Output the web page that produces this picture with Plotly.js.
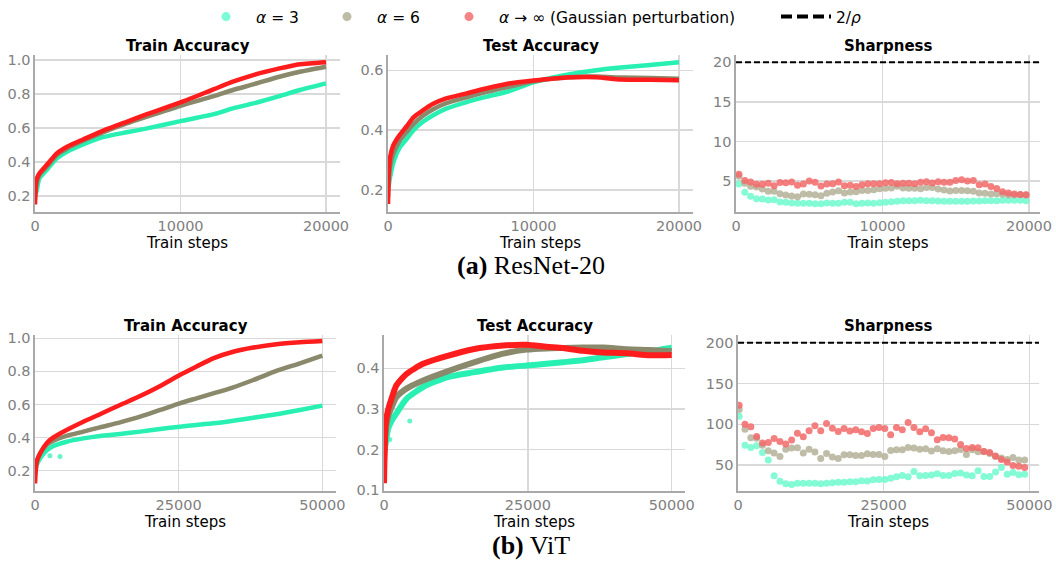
<!DOCTYPE html>
<html>
<head>
<meta charset="utf-8">
<script src="https://cdn.plot.ly/plotly-3.0.1.min.js"></script>
<style>html,body{margin:0;padding:0;background:#fff}#chart{width:1056px;height:562px}</style>
</head>
<body>
<div id="chart"></div>
<script>
// ---------------- DATA ----------------
// ResNet-20 train accuracy
const resTrainSteps = [0, 100, 300, 800, 1500, 2200, 3300, 4500, 6300, 7700, 10000, 12300, 13600, 15000, 16800, 18200, 20000];
const resTrainA3   = [0.21, 0.225, 0.304, 0.353, 0.422, 0.461, 0.504, 0.543, 0.575, 0.598, 0.641, 0.682, 0.716, 0.745, 0.788, 0.824, 0.863];
const resTrainA6   = [0.18, 0.27, 0.325, 0.372, 0.441, 0.48, 0.525, 0.569, 0.627, 0.667, 0.731, 0.788, 0.824, 0.857, 0.902, 0.931, 0.961];
const resTrainInf  = [0.15, 0.294, 0.333, 0.382, 0.451, 0.49, 0.533, 0.578, 0.637, 0.682, 0.751, 0.829, 0.873, 0.912, 0.951, 0.976, 0.988];

// ResNet-20 test accuracy
const resTestSteps = [0, 50, 150, 350, 800, 1300, 1750, 2400, 3100, 4000, 5400, 6800, 8300, 10000, 12300, 14300, 16000, 18000, 20000];
const resTestA3    = [0.205, 0.215, 0.244, 0.289, 0.342, 0.372, 0.40, 0.428, 0.45, 0.472, 0.494, 0.512, 0.53, 0.56, 0.585, 0.60, 0.609, 0.618, 0.627];
const resTestA6    = [0.175, 0.23, 0.28, 0.32, 0.365, 0.395, 0.42, 0.448, 0.47, 0.49, 0.51, 0.528, 0.545, 0.563, 0.577, 0.579, 0.576, 0.574, 0.572];
const resTestInf   = [0.154, 0.25, 0.311, 0.348, 0.384, 0.414, 0.443, 0.466, 0.488, 0.506, 0.523, 0.54, 0.556, 0.566, 0.576, 0.577, 0.569, 0.568, 0.567];

// ResNet-20 sharpness
const resSharpSteps = [200,600,1000,1400,1800,2200,2600,3000,3400,3800,4200,4600,5000,5400,5800,6200,6600,7000,7400,7800,8200,8600,9000,9400,9800,10200,10600,11000,11400,11800,12200,12600,13000,13400,13800,14200,14600,15000,15400,15800,16200,16600,17000,17400,17800,18200,18600,19000,19400,19800];
const resSharpA3  = [4.62,3.57,3.07,2.77,2.73,2.61,2.65,2.35,2.31,2.23,2.18,2.18,2.18,2.14,2.14,2.23,2.18,2.18,2.31,2.31,2.14,2.18,2.23,2.18,2.27,2.31,2.39,2.44,2.52,2.52,2.52,2.56,2.52,2.52,2.48,2.44,2.44,2.44,2.44,2.44,2.48,2.48,2.52,2.52,2.52,2.56,2.56,2.56,2.56,2.52];
const resSharpA6  = [5.6,4.71,4.33,4.24,3.99,3.70,3.70,3.40,3.24,3.11,3.03,3.36,3.32,3.28,3.15,3.45,3.61,3.78,3.49,3.61,3.66,3.82,3.82,3.91,4.03,4.08,4.12,4.33,4.12,4.08,4.08,4.03,4.20,4.20,3.99,3.87,3.74,3.82,3.82,3.78,3.70,3.49,3.45,3.36,3.40,3.32,3.24,3.24,3.28,3.24];
const resSharpInf = [5.85,5.08,4.88,4.6,4.6,4.72,4.42,4.82,4.8,4.88,4.47,4.62,5.02,4.86,4.36,4.62,4.65,4.88,4.42,4.47,4.32,4.52,4.66,4.66,4.66,4.8,4.82,4.66,4.72,4.72,4.66,4.84,4.9,4.76,4.92,4.86,4.86,5.08,5.16,5.02,5.08,4.52,4.62,4.32,4.06,3.66,3.5,3.36,3.3,3.26];
const resTwoOverRho = 20;

// ViT train accuracy
const vitTrainSteps = [0, 300, 900, 2000, 3200, 5500, 8400, 11300, 14800, 18300, 21800, 25200, 28100, 31000, 34500, 38000, 42000, 46100, 50000];
const vitTrainA3  = [0.184, 0.234, 0.275, 0.321, 0.349, 0.375, 0.395, 0.41, 0.422, 0.436, 0.452, 0.466, 0.476, 0.486, 0.502, 0.52, 0.541, 0.567, 0.593];
const vitTrainA6  = [0.19, 0.254, 0.305, 0.355, 0.381, 0.41, 0.436, 0.462, 0.492, 0.526, 0.567, 0.607, 0.637, 0.667, 0.704, 0.748, 0.803, 0.849, 0.895];
const vitTrainInf = [0.123, 0.254, 0.305, 0.365, 0.401, 0.446, 0.496, 0.541, 0.597, 0.651, 0.712, 0.778, 0.829, 0.879, 0.919, 0.944, 0.964, 0.976, 0.984];
const vitTrainA3OutSteps = [2600, 4350];
const vitTrainA3Out      = [0.29, 0.285];

// ViT test accuracy
const vitTestSteps = [0, 300, 700, 1300, 2150, 3900, 6800, 10900, 15500, 20700, 24800, 28200, 31100, 34600, 38100, 42200, 46200, 50000];
const vitTestA3  = [0.19, 0.215, 0.25, 0.27, 0.289, 0.325, 0.354, 0.378, 0.39, 0.402, 0.407, 0.411, 0.415, 0.42, 0.427, 0.435, 0.442, 0.451];
const vitTestA6  = [0.174, 0.248, 0.28, 0.303, 0.329, 0.35, 0.37, 0.392, 0.414, 0.436, 0.446, 0.449, 0.45, 0.451, 0.451, 0.447, 0.445, 0.442];
const vitTestInf = [0.117, 0.264, 0.297, 0.325, 0.358, 0.386, 0.411, 0.430, 0.447, 0.456, 0.458, 0.453, 0.45, 0.443, 0.439, 0.437, 0.432, 0.433];
const vitTestA3OutSteps = [1000, 4470];
const vitTestA3Out      = [0.225, 0.27];

// ViT sharpness
const vitSharpSteps = [200,1200,2200,3200,4200,5200,6200,7200,8200,9200,10200,11200,12200,13200,14200,15200,16200,17200,18200,19200,20200,21200,22200,23200,24200,25200,26200,27200,28200,29200,30200,31200,32200,33200,34200,35200,36200,37200,38200,39200,40200,41200,42200,43200,44200,45200,46200,47200,48200,49200];
const vitSharpA3  = [109.9,74.4,71.6,73.6,65.5,56.1,36.9,30.0,27.2,26.3,27.6,27.6,27.6,27.6,27.2,27.6,28.4,28.8,28.8,29.6,29.6,30.8,30.4,32.0,32.4,32.4,33.7,35.7,37.3,35.7,42.2,36.9,37.3,37.7,39.4,37.3,37.3,39.8,40.2,37.7,36.9,43.0,36.1,36.1,41.4,47.1,38.6,41.0,38.2,38.6];
const vitSharpA6  = [118.1,94.0,83.4,83.0,74.4,67.5,64.7,60.6,69.5,70.8,71.2,64.7,69.5,65.9,58.1,64.2,59.8,58.1,62.6,62.6,61.8,61.8,63.8,63.0,63.0,60.6,67.9,68.7,68.7,71.6,70.8,69.5,69.9,67.1,69.9,67.5,66.7,67.5,69.1,63.0,68.7,66.3,66.7,64.2,60.6,58.5,56.9,59.4,56.1,56.1];
const vitSharpInf = [123.4,100.1,96.9,85.0,76.9,77.7,82.6,78.9,75.7,80.6,89.1,84.6,92.0,98.1,92.0,100.9,95.2,91.2,94.8,91.6,93.2,90.7,88.7,94.8,96.0,94.8,87.1,96.0,93.2,102.2,96.0,90.7,94.4,89.5,81.0,83.8,83.4,81.8,75.3,70.4,71.6,71.2,66.7,65.5,61.0,56.9,53.6,49.6,48.4,47.1];
const vitTwoOverRho = 200;

// Labels
const seriesNames = ['<i>α</i> = 3', '<i>α</i> = 6', '<i>α</i> → ∞ (Gaussian perturbation)'];
const rhoName = '2/<i>ρ</i>';
const panelTitles = ['Train Accuracy', 'Test Accuracy', 'Sharpness', 'Train Accuracy', 'Test Accuracy', 'Sharpness'];
const xLabel = 'Train steps';
const captions = ['<b>(a)</b> ResNet-20', '<b>(b)</b> ViT'];
const xTicksRes = [0, 10000, 20000];
const xTicksVit = [0, 25000, 50000];
const yTicksAcc = [0.2, 0.4, 0.6, 0.8, 1.0];
const yTicksResTest = [0.2, 0.4, 0.6];
const yTicksVitTest = [0.1, 0.2, 0.3, 0.4];
const yTicksResSharp = [5, 10, 15, 20];
const yTicksVitSharp = [50, 100, 150, 200];

// ---------------- STYLE ----------------
const accColors = ['#27f0b2', '#8a896b', '#ff1c1c'];
const sharpColors = ['rgba(110,250,205,0.85)', 'rgba(180,178,152,0.85)', 'rgba(242,105,105,0.85)'];
const legendColors = ['#7cfcd6', '#bdbca6', '#f58484'];
const W = 1056, H = 562;
const FONT = 'DejaVu Sans, Verdana, sans-serif';

function px2x(p) { return p / W; }
function px2y(p) { return 1 - p / H; }

const panels = [
  {xd: [35, 340], yd: [55, 212], xr: [0, 20960], yr: [0.106, 1.03], xt: xTicksRes, yt: yTicksAcc, yf: '.1f'},
  {xd: [388, 693], yd: [55, 212], xr: [0, 20960], yr: [0.127, 0.651], xt: xTicksRes, yt: yTicksResTest, yf: '.1f'},
  {xd: [736, 1040], yd: [55, 212], xr: [0, 20750], yr: [1.09, 20.92], xt: xTicksRes, yt: yTicksResSharp, yf: 'd'},
  {xd: [35, 336], yd: [335, 491], xr: [0, 52380], yr: [0.077, 1.02], xt: xTicksVit, yt: yTicksAcc, yf: '.1f'},
  {xd: [384, 685], yd: [335, 491], xr: [0, 52310], yr: [0.098, 0.482], xt: xTicksVit, yt: yTicksVitTest, yf: '.1f'},
  {xd: [738, 1039], yd: [335, 491], xr: [0, 51660], yr: [18.2, 209.4], xt: xTicksVit, yt: yTicksVitSharp, yf: 'd'}
];

const layout = {
  width: W, height: H, autosize: false,
  margin: {l: 0, r: 0, t: 0, b: 0},
  paper_bgcolor: '#fff', plot_bgcolor: '#fff',
  font: {family: FONT, size: 14, color: '#000'},
  showlegend: true,
  legend: {
    orientation: 'h', x: px2x(196), xanchor: 'left', y: px2y(0), yanchor: 'top',
    font: {family: FONT, size: 15.5, color: '#000'}, itemwidth: 50, bgcolor: 'rgba(0,0,0,0)',
    tracegroupgap: 0
  },
  annotations: [], shapes: []
};

panels.forEach((p, i) => {
  const n = i + 1;
  const xa = 'xaxis' + (n === 1 ? '' : n), ya = 'yaxis' + (n === 1 ? '' : n);
  layout[xa] = {
    domain: [px2x(p.xd[0]), px2x(p.xd[1])], range: p.xr, anchor: 'y' + (n === 1 ? '' : n),
    tickvals: p.xt, tickformat: 'd', showgrid: true, gridcolor: '#d9d9d9', gridwidth: 1.5,
    zeroline: false, showline: true, linecolor: '#a9a9a9', linewidth: 1.6, ticks: '',
    tickfont: {family: FONT, size: 14.5, color: '#808080'}, automargin: false,
    title: {text: xLabel, font: {family: FONT, size: 15, color: '#000'}, standoff: 3}
  };
  layout[ya] = {
    domain: [px2y(p.yd[1]), px2y(p.yd[0])], range: p.yr, anchor: 'x' + (n === 1 ? '' : n),
    tickvals: p.yt, tickformat: p.yf, showgrid: true, gridcolor: '#d9d9d9', gridwidth: 1.5,
    zeroline: false, showline: true, linecolor: '#a9a9a9', linewidth: 1.6, ticks: '',
    tickfont: {family: FONT, size: 14.5, color: '#808080'}, automargin: false
  };
  layout.annotations.push({
    text: '<b>' + panelTitles[i] + '</b>', xref: 'paper', yref: 'paper',
    x: px2x((p.xd[0] + p.xd[1]) / 2), y: px2y(p.yd[0] - 9), xanchor: 'center', yanchor: 'middle',
    showarrow: false, font: {family: FONT, size: 15, color: '#000'}
  });
});

layout.annotations.push({
  text: captions[0], xref: 'paper', yref: 'paper', x: px2x(531), y: px2y(265),
  xanchor: 'center', yanchor: 'middle', showarrow: false,
  font: {family: 'Liberation Serif, Times New Roman, serif', size: 26, color: '#000'}
});
layout.annotations.push({
  text: captions[1], xref: 'paper', yref: 'paper', x: px2x(531), y: px2y(545),
  xanchor: 'center', yanchor: 'middle', showarrow: false,
  font: {family: 'Liberation Serif, Times New Roman, serif', size: 26, color: '#000'}
});

const traces = [];
function ax(n, c) { return c + (n === 1 ? '' : n); }
function accTraces(steps, series, n, width) {
  series.forEach((ys, k) => {
    traces.push({
      type: 'scatter', mode: 'lines', x: steps, y: ys, xaxis: ax(n, 'x'), yaxis: ax(n, 'y'),
      line: {color: accColors[k], width: width, shape: 'spline', smoothing: 0.6},
      showlegend: false, hoverinfo: 'skip'
    });
  });
}
function outlierTrace(steps, ys, n, k) {
  traces.push({
    type: 'scatter', mode: 'markers', x: steps, y: ys, xaxis: ax(n, 'x'), yaxis: ax(n, 'y'),
    marker: {color: accColors[k], size: 5, opacity: 0.7}, showlegend: false, hoverinfo: 'skip'
  });
}
function sharpTraces(steps, series, n) {
  series.forEach((ys, k) => {
    traces.push({
      type: 'scatter', mode: 'markers', x: steps, y: ys, xaxis: ax(n, 'x'), yaxis: ax(n, 'y'),
      marker: {color: sharpColors[k], size: 7}, showlegend: false, hoverinfo: 'skip'
    });
  });
}
function rhoTrace(val, n, xmax) {
  traces.push({
    type: 'scatter', mode: 'lines', x: [0, xmax], y: [val, val], xaxis: ax(n, 'x'), yaxis: ax(n, 'y'),
    line: {color: '#000', width: 2, dash: '6px,3px'}, showlegend: false, hoverinfo: 'skip'
  });
}

// legend-only entries
const legendWidths = [56, 57, 272];
seriesNames.forEach((nm, k) => {
  traces.push({
    type: 'scatter', mode: 'markers', x: [null], y: [null], name: nm,
    marker: {color: legendColors[k], size: 9}, legendwidth: legendWidths[k], hoverinfo: 'skip'
  });
});
traces.push({
  type: 'scatter', mode: 'lines', x: [null], y: [null], name: rhoName,
  line: {color: '#000', width: 4, dash: '11px,5px'}, hoverinfo: 'skip'
});

sharpTraces(resSharpSteps, [resSharpA3, resSharpA6, resSharpInf], 3);
rhoTrace(resTwoOverRho, 3, panels[2].xr[1]);
accTraces(resTrainSteps, [resTrainA3, resTrainA6, resTrainInf], 1, 4.5);
accTraces(resTestSteps, [resTestA3, resTestA6, resTestInf], 2, 4.5);
outlierTrace(vitTrainA3OutSteps, vitTrainA3Out, 4, 0);
accTraces(vitTrainSteps, [vitTrainA3, vitTrainA6, vitTrainInf], 4, 4.5);
outlierTrace(vitTestA3OutSteps, vitTestA3Out, 5, 0);
accTraces(vitTestSteps, [vitTestA3, vitTestA6, vitTestInf], 5, 6);
sharpTraces(vitSharpSteps, [vitSharpA3, vitSharpA6, vitSharpInf], 6);
rhoTrace(vitTwoOverRho, 6, panels[5].xr[1]);

Plotly.newPlot('chart', traces, layout, {staticPlot: true, displayModeBar: false});
</script>
</body>
</html>
